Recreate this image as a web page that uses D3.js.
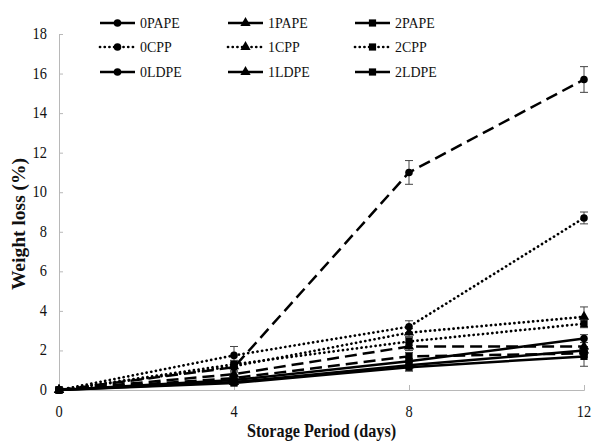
<!DOCTYPE html>
<html>
<head>
<meta charset="utf-8">
<script src="https://cdn.jsdelivr.net/npm/d3@7/dist/d3.min.js"></script>
<style>
  body { margin: 0; background: #fff; }
  svg { display: block; }
</style>
</head>
<body>
<svg id="chart" width="594" height="447"></svg>
<script>
// Storage days on the x axis
const days = [0, 4, 8, 12];
const yTicks = [0, 2, 4, 6, 8, 10, 12, 14, 16, 18];

// Weight loss (%) per packaging treatment
const s0PAPE = [0, 0.5, 1.45, 2.6];
const s1PAPE = [0, 0.4, 1.25, 2.0];
const s2PAPE = [0, 0.35, 1.15, 1.7];
const s0CPP  = [0, 1.75, 3.2, 8.7];
const s1CPP  = [0, 1.2, 2.9, 3.7];
const s2CPP  = [0, 1.3, 2.45, 3.35];
const s0LDPE = [0, 1.15, 11.0, 15.7];
const s1LDPE = [0, 0.8, 2.2, 2.2];
const s2LDPE = [0, 0.6, 1.7, 1.85];

// Standard error per point
const e0PAPE = [0, 0.1, 0.15, 0.2];
const e1PAPE = [0, 0.1, 0.15, 0.2];
const e2PAPE = [0, 0.1, 0.2, 0.5];
const e0CPP  = [0, 0.45, 0.3, 0.3];
const e1CPP  = [0, 0.2, 0.2, 0.5];
const e2CPP  = [0, 0.2, 0.2, 0.2];
const e0LDPE = [0, 0.2, 0.6, 0.65];
const e1LDPE = [0, 0.1, 0.2, 0.2];
const e2LDPE = [0, 0.1, 0.2, 0.2];

const seriesNames = ["0PAPE", "1PAPE", "2PAPE", "0CPP", "1CPP", "2CPP", "0LDPE", "1LDPE", "2LDPE"];
const seriesValues = [s0PAPE, s1PAPE, s2PAPE, s0CPP, s1CPP, s2CPP, s0LDPE, s1LDPE, s2LDPE];
const seriesErrors = [e0PAPE, e1PAPE, e2PAPE, e0CPP, e1CPP, e2CPP, e0LDPE, e1LDPE, e2LDPE];

// line style by film, marker by level
const lineStyle = { PAPE: "solid", CPP: "dotted", LDPE: "dashed" };
const markerShape = ["circle", "triangle", "square"];

const series = seriesNames.map((name, i) => ({
  name,
  values: seriesValues[i],
  errors: seriesErrors[i],
  style: lineStyle[name.slice(1)],
  marker: markerShape[i % 3]
}));

const svg = d3.select("#chart");
const x = d3.scaleLinear().domain([0, 12]).range([59, 584]);
const y = d3.scaleLinear().domain([0, 18]).range([390, 34]);

// serif text, horizontal runs slightly narrowed
const FONT = "Liberation Serif";
function label(g, tx, ty, str, size, anchor, bold, rotate, sx = 0.9) {
  return g.append("text")
    .attr("transform", `translate(${tx},${ty})` + (rotate ? ` rotate(${rotate})` : "") + ` scale(${sx},1)`)
    .attr("font-family", FONT)
    .attr("text-anchor", anchor)
    .attr("font-size", size)
    .attr("font-weight", bold ? "bold" : "normal")
    .attr("fill", "#111")
    .text(str);
}

// axes
const axisColor = "#b8b8b8";
const yAxis = svg.append("g").attr("transform", `translate(${x(0)},0)`)
  .call(d3.axisRight(y).tickValues(yTicks).tickSize(4).tickFormat(""));
yAxis.select(".domain").attr("stroke", axisColor).attr("stroke-width", 1);
yAxis.selectAll(".tick line").attr("stroke", axisColor);

const xAxis = svg.append("g").attr("transform", `translate(0,${y(0)})`)
  .call(d3.axisTop(x).tickValues(days).tickSize(5).tickFormat(""));
xAxis.select(".domain").attr("stroke", axisColor).attr("stroke-width", 1);
xAxis.selectAll(".tick line").attr("stroke", axisColor);

// tick labels
const tl = svg.append("g");
yTicks.forEach(d => label(tl, 47, y(d) + 5, d, 16, "end"));
days.forEach(d => label(tl, x(d), 417, d, 16, "middle"));

// axis titles
label(svg, 25, (y(0) + y(18)) / 2 + 12, "Weight loss (%)", 19.5, "middle", true, -90, 1);
label(svg, (x(0) + x(12)) / 2, 437, "Storage Period (days)", 18, "middle", true);

function applyStroke(sel, style) {
  sel.attr("fill", "none").attr("stroke", "#000");
  if (style === "solid") sel.attr("stroke-width", 2.5);
  if (style === "dotted") sel.attr("stroke-width", 2.7).attr("stroke-linecap", "round").attr("stroke-dasharray", "0.1 4.6");
  if (style === "dashed") sel.attr("stroke-width", 2.5).attr("stroke-dasharray", "12 6");
}

function drawMarker(g, shape, cx, cy) {
  if (shape === "circle") {
    g.append("circle").attr("cx", cx).attr("cy", cy).attr("r", 3.8).attr("fill", "#000");
  } else if (shape === "triangle") {
    g.append("path").attr("d", d3.symbol().type(d3.symbolTriangle).size(46)())
      .attr("transform", `translate(${cx},${cy})`).attr("fill", "#000");
  } else {
    g.append("rect").attr("x", cx - 3.6).attr("y", cy - 3.6).attr("width", 7.2).attr("height", 7.2).attr("fill", "#000");
  }
}

const line = d3.line().x((d, i) => x(days[i])).y(d => y(d));
const plot = svg.append("g");

// error bars
series.forEach(s => {
  const g = plot.append("g");
  s.values.forEach((v, i) => {
    const e = s.errors[i];
    if (!e) return;
    const cx = x(days[i]);
    g.append("line").attr("x1", cx).attr("x2", cx).attr("y1", y(v - e)).attr("y2", y(v + e))
      .attr("stroke", "#444").attr("stroke-width", 1);
    [v - e, v + e].forEach(t => g.append("line")
      .attr("x1", cx - 4).attr("x2", cx + 4).attr("y1", y(t)).attr("y2", y(t))
      .attr("stroke", "#444").attr("stroke-width", 1));
  });
});

// lines and markers
series.forEach(s => {
  plot.append("path").datum(s.values).attr("d", line).call(applyStroke, s.style);
  const g = plot.append("g");
  s.values.forEach((v, i) => drawMarker(g, s.marker, x(days[i]), y(v)));
});

// legend: three columns, one row per film
const legCols = [100, 228, 355];
const legRows = { PAPE: 23, CPP: 47, LDPE: 72 };
series.forEach((s, i) => {
  const lx = legCols[i % 3];
  const ly = legRows[s.name.slice(1)];
  const g = svg.append("g");
  const seg = g.append("line").attr("x1", lx).attr("x2", lx + 35).attr("y1", ly).attr("y2", ly);
  applyStroke(seg, s.style === "dashed" ? "solid" : s.style);
  drawMarker(g, s.marker, lx + 17.5, ly);
  label(g, lx + 40, ly + 5, s.name, 15.5, "start");
});
</script>
</body>
</html>
